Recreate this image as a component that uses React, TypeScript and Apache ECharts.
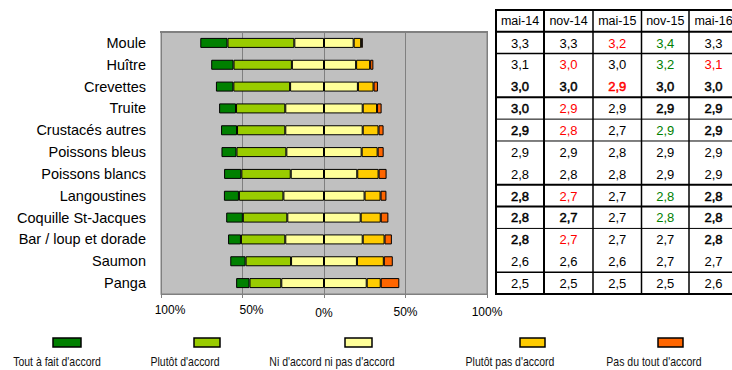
import React, { useEffect, useRef } from "react";
import * as echarts from "echarts";

// Products, top to bottom
const categories = [
  "Moule",
  "Huître",
  "Crevettes",
  "Truite",
  "Crustacés autres",
  "Poissons bleus",
  "Poissons blancs",
  "Langoustines",
  "Coquille St-Jacques",
  "Bar / loup et dorade",
  "Saumon",
  "Panga",
];

// Answer shares (%) per product
const toutAFait = [16.7, 13.7, 10.7, 10.4, 9.8, 9.2, 10.6, 9.2, 10.2, 7.9, 9.4, 8.2];
const plutotAccord = [41.0, 35.8, 34.8, 30.2, 29.6, 30.6, 30.3, 27.3, 27.3, 27.2, 27.9, 19.5];
const niNi = [36.4, 39.4, 41.6, 47.5, 47.5, 46.2, 40.8, 49.8, 45.0, 47.5, 40.4, 52.4];
const plutotPas = [4.6, 8.6, 9.6, 8.8, 9.7, 9.8, 13.1, 9.8, 12.3, 13.4, 16.5, 8.6];
const pasDuTout = [1.0, 2.0, 2.7, 2.8, 3.1, 3.7, 4.9, 3.6, 4.7, 4.5, 5.5, 11.4];

const answerLabels = [
  "Tout à fait d'accord",
  "Plutôt d'accord",
  "Ni d'accord ni pas d'accord",
  "Plutôt pas d'accord",
  "Pas du tout d'accord",
];
const answerColors = ["#008000", "#99CC00", "#FFFF99", "#FFCC00", "#FF6600"];

// Average score per survey wave
const periods = ["mai-14", "nov-14", "mai-15", "nov-15", "mai-16"];
const scoreMai14 = [3.3, 3.1, 3.0, 3.0, 2.9, 2.9, 2.8, 2.8, 2.8, 2.8, 2.6, 2.5];
const scoreNov14 = [3.3, 3.0, 3.0, 2.9, 2.8, 2.9, 2.8, 2.7, 2.7, 2.7, 2.6, 2.5];
const scoreMai15 = [3.2, 3.0, 2.9, 2.9, 2.7, 2.8, 2.8, 2.7, 2.7, 2.7, 2.6, 2.5];
const scoreNov15 = [3.4, 3.2, 3.0, 2.9, 2.9, 2.9, 2.9, 2.8, 2.8, 2.7, 2.7, 2.5];
const scoreMai16 = [3.3, 3.1, 3.0, 2.9, 2.9, 2.9, 2.9, 2.8, 2.8, 2.8, 2.7, 2.6];

// Significant change vs previous wave: -1 down (red), 1 up (green)
const trendMai14 = [0, 0, 0, 0, 0, 0, 0, 0, 0, 0, 0, 0];
const trendNov14 = [0, -1, 0, -1, -1, 0, 0, -1, 0, -1, 0, 0];
const trendMai15 = [-1, 0, -1, 0, 0, 0, 0, 0, 0, 0, 0, 0];
const trendNov15 = [1, 1, 0, 0, 1, 0, 0, 1, 1, 0, 0, 0];
const trendMai16 = [0, -1, 0, 0, 0, 0, 0, 0, 0, 0, 0, 0];

// Cells printed heavier: [row, column]
const boldCells: [number, number][] = [
  [2, 0], [2, 1], [2, 2], [2, 3], [2, 4],
  [3, 0], [3, 3], [3, 4],
  [4, 0], [4, 4],
  [7, 0], [7, 4],
  [8, 0], [8, 1], [8, 4],
  [9, 0], [9, 4],
];

const FONT = "'Liberation Sans', Arial, sans-serif";

function buildTable(): any[] {
  const scores = [scoreMai14, scoreNov14, scoreMai15, scoreNov15, scoreMai16];
  const trends = [trendMai14, trendNov14, trendMai15, trendNov15, trendMai16];
  const colX = [496, 544, 593, 641.5, 689, 738];
  const colW = [2, 2, 1.5, 1.5, 1.5, 2];
  const top = 10;
  const bodyTop = 31.7;
  const bottom = 294;
  const rowH = (bottom - bodyTop) / categories.length;
  const ruleAfter = [1.5, 0, 2, 1, 1, 0, 2, 2, 1, 0, 1.5, 2];
  const els: any[] = [];

  els.push({
    type: "rect",
    shape: { x: colX[0], y: top, width: colX[5] - colX[0], height: bottom - top },
    style: { fill: "#fff" },
    z: 1,
  });
  const hline = (y: number, w: number) =>
    els.push({
      type: "line",
      shape: { x1: colX[0] - 1, y1: y, x2: colX[5], y2: y },
      style: { stroke: "#000", lineWidth: w },
      z: 3,
    });
  hline(top, 2);
  hline(bodyTop, 2);
  ruleAfter.forEach((w, i) => {
    if (w > 0) hline(bodyTop + rowH * (i + 1), w);
  });
  colX.forEach((x, i) =>
    els.push({
      type: "line",
      shape: { x1: x, y1: top, x2: x, y2: bottom },
      style: { stroke: "#000", lineWidth: colW[i] },
      z: 3,
    })
  );

  periods.forEach((p, c) => {
    const cx = (colX[c] + colX[c + 1]) / 2;
    els.push({
      type: "text",
      x: cx,
      y: (top + bodyTop) / 2 + 0.5,
      z: 4,
      style: {
        text: p,
        fill: "#000",
        font: `12.5px ${FONT}`,
        align: "center",
        verticalAlign: "middle",
      },
    });
    scores[c].forEach((v, r) => {
      const t = trends[c][r];
      const color = t < 0 ? "#FF0000" : t > 0 ? "#008000" : "#000";
      const heavy = boldCells.some(([br, bc]) => br === r && bc === c);
      els.push({
        type: "text",
        x: cx,
        y: bodyTop + rowH * (r + 0.5) + 0.5,
        z: 4,
        style: {
          text: v.toFixed(1).replace(".", ","),
          fill: color,
          stroke: heavy ? color : undefined,
          lineWidth: heavy ? 0.5 : 0,
          font: `13px ${FONT}`,
          align: "center",
          verticalAlign: "middle",
        },
      });
    });
  });
  return els;
}

function buildLegend(): any[] {
  const swatchX = [53, 194, 345, 520, 658];
  const swatchW = [28, 26, 27, 25, 25];
  const textX = [57, 185, 332, 510, 654];
  const els: any[] = [];
  answerLabels.forEach((label, i) => {
    els.push({
      type: "rect",
      shape: { x: swatchX[i], y: 338, width: swatchW[i], height: 9 },
      style: { fill: answerColors[i], stroke: "#000", lineWidth: 1.5 },
    });
    els.push({
      type: "text",
      x: textX[i],
      y: 362,
      scaleX: 0.84,
      style: {
        text: label,
        fill: "#111",
        font: `12.5px ${FONT}`,
        align: "center",
        verticalAlign: "middle",
      },
    });
  });
  return els;
}

export default function App() {
  const ref = useRef<HTMLDivElement>(null);

  useEffect(() => {
    if (!ref.current) return;
    const chart = echarts.init(ref.current, undefined, { renderer: "svg" });

    const seg = (name: string, data: number[], color: string, sign: number) => ({
      name,
      type: "bar",
      stack: "total",
      barWidth: 10,
      data: data.map((v) => sign * v),
      itemStyle: { color, borderColor: "#000", borderWidth: 1 },
    });
    const half = niNi.map((v) => v / 2);

    const option: any = {
      animation: false,
      backgroundColor: "#fff",
      textStyle: { fontFamily: FONT },
      grid: {
        left: 161,
        top: 32,
        width: 326,
        height: 262,
        show: true,
        backgroundColor: "#C0C0C0",
        borderColor: "#808080",
        borderWidth: 1,
        containLabel: false,
        outerBoundsMode: "none",
      },
      xAxis: {
        type: "value",
        min: -100,
        max: 100,
        interval: 50,
        axisLine: { show: true, lineStyle: { color: "#808080", width: 1 } },
        axisTick: { show: true, length: 4, lineStyle: { color: "#808080" } },
        splitLine: { show: true, lineStyle: { color: "#808080", width: 1 } },
        axisLabel: {
          margin: 10,
          color: "#000",
          fontSize: 12,
          formatter: (v: number) =>
            v < 0 ? `{neg|${-v}%}` : v === 0 ? `{zero|0%}` : `{pos|${v}%}`,
          rich: {
            neg: { fontSize: 12, color: "#000", padding: [0, 0, 0, 18] },
            zero: { fontSize: 12, color: "#000", padding: [3, 0, 0, 0] },
            pos: { fontSize: 12, color: "#000", padding: [2, 0, 0, 0] },
          },
        },
      },
      yAxis: {
        type: "category",
        data: categories,
        inverse: true,
        axisLine: { show: true, lineStyle: { color: "#808080" } },
        axisTick: { show: false },
        axisLabel: { color: "#000", fontSize: 14.5, margin: 15 },
      },
      series: [
        seg("Ni d'accord ni pas d'accord (gauche)", half, answerColors[2], -1),
        seg(answerLabels[1], plutotAccord, answerColors[1], -1),
        seg(answerLabels[0], toutAFait, answerColors[0], -1),
        seg("Ni d'accord ni pas d'accord (droite)", half, answerColors[2], 1),
        seg(answerLabels[3], plutotPas, answerColors[3], 1),
        seg(answerLabels[4], pasDuTout, answerColors[4], 1),
      ],
      graphic: [
        // heavier top edge of the plot frame
        {
          type: "line",
          shape: { x1: 160, y1: 32, x2: 488, y2: 32 },
          style: { stroke: "#808080", lineWidth: 2 },
          z: 10,
        },
        ...buildTable(),
        ...buildLegend(),
      ],
    };

    chart.setOption(option);
    return () => chart.dispose();
  }, []);

  return (
    <div
      ref={ref}
      style={{ position: "fixed", left: 0, top: 0, width: 732, height: 370, background: "#fff" }}
    />
  );
}
